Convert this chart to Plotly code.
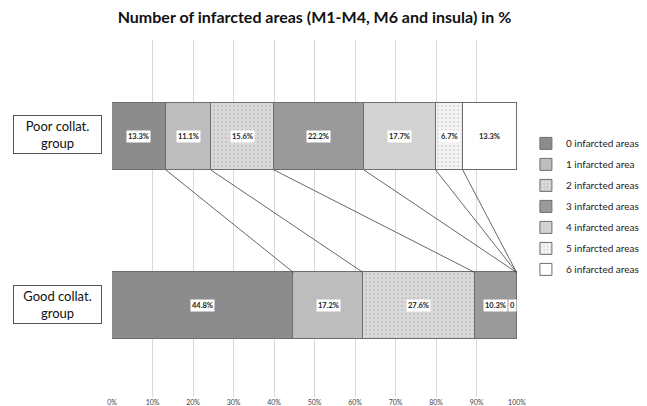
import plotly.graph_objects as go

groups = ["Good collat. group", "Poor collat. group"]
group_labels = ["Good collat.<br>group", "Poor collat.<br>group"]
series = ["0 infarcted areas", "1 infarcted area", "2 infarcted areas", "3 infarcted areas",
          "4 infarcted areas", "5 infarcted areas", "6 infarcted areas"]
poor = [13.3, 11.1, 15.6, 22.2, 17.7, 6.7, 13.3]
good = [44.8, 17.2, 27.6, 10.3, 0.0, 0.0, 0.0]
tick_vals = [0, 10, 20, 30, 40, 50, 60, 70, 80, 90, 100]
tick_text = [f"{v}%" for v in tick_vals]

colors = ["#8c8c8c", "#bdbdbd", "#dadada", "#9a9a9a", "#d2d2d2", "#f4f4f4", "#ffffff"]
patterns = ["", "", ".", "", "", ".", ""]
pat_fg = ["#8c8c8c", "#bdbdbd", "#b0b0b0", "#9a9a9a", "#d2d2d2", "#c8c8c8", "#ffffff"]

FONT = "Lato, Calibri, Carlito, sans-serif"
W = 0.395
Y_GOOD, Y_POOR = 0, 1

# page body has an 8px margin, so the figure is sized to fit the window
FIG_W, FIG_H = 639, 398
L, R, T, B = 104, 130, 32, 9

fig = go.Figure()
for i, name in enumerate(series):
    fig.add_trace(go.Bar(
        x=[good[i], poor[i]], y=[Y_GOOD, Y_POOR], orientation="h", name=name,
        width=W, legendgroup=f"g{i}",
        marker=dict(color=colors[i], line=dict(color="#6e6e6e", width=1),
                    pattern=dict(shape=patterns[i], fgcolor=pat_fg[i], bgcolor=colors[i],
                                 size=4, solidity=0.3)),
        hoverinfo="skip",
    ))

# connector lines between cumulative ends
lx, ly = [], []
cp, cg = 0.0, 0.0
for i in range(len(series) - 1):
    cp += poor[i]
    cg += good[i]
    lx += [cp, cg, None]
    ly += [Y_POOR - W / 2, Y_GOOD + W / 2, None]
fig.add_trace(go.Scatter(x=lx, y=ly, mode="lines", line=dict(color="#404040", width=0.8),
                         showlegend=False, hoverinfo="skip"))

# data labels
annotations = []
for vals, yv in [(poor, Y_POOR), (good, Y_GOOD)]:
    c = 0.0
    zero_done = False
    for v in vals:
        if v > 0:
            annotations.append(dict(x=c + v / 2, y=yv, xref="x", yref="y", text=f"<b>{v:.1f}%</b>",
                                    showarrow=False, bgcolor="white",
                                    font=dict(family=FONT, size=7.5, color="#222222"), borderpad=1))
        elif not zero_done:
            zero_done = True
            annotations.append(dict(x=c, y=yv, xref="x", yref="y", text="<b>0</b>",
                                    showarrow=False, bgcolor="white", xanchor="right",
                                    font=dict(family=FONT, size=7.5, color="#222222"), borderpad=1))
        c += v

for lbl, yv in zip(group_labels, [Y_GOOD, Y_POOR]):
    annotations.append(dict(x=-0.245, y=yv + 0.01, xref="paper", yref="y", text=lbl, showarrow=False,
                            xanchor="left", align="center", width=85, height=35,
                            bordercolor="#555555", borderwidth=1, bgcolor="white",
                            font=dict(family=FONT, size=13, color="#111111")))

fig.update_layout(
    width=FIG_W, height=FIG_H,
    margin=dict(l=L, r=R, t=T, b=B, autoexpand=False),
    paper_bgcolor="white", plot_bgcolor="white",
    barmode="stack", bargap=0,
    title=dict(text="<b>Number of infarcted areas (M1-M4, M6 and insula) in %</b>",
               x=(L + (FIG_W - R)) / 2 / FIG_W, xanchor="center", y=1 - 9 / FIG_H,
               yanchor="middle",
               font=dict(family=FONT, size=16, color="#111111")),
    xaxis=dict(range=[0, 100], tickvals=tick_vals, ticktext=tick_text, showgrid=True,
               gridcolor="#d9d9d9", gridwidth=1, zeroline=False, showline=False,
               tickfont=dict(family=FONT, size=7, color="#444444"), ticks="", ticklabelstandoff=0),
    yaxis=dict(range=[-0.537, 1.569], showticklabels=False, showgrid=False, zeroline=False,
               showline=False),
    legend=dict(x=1.022, y=0.751, xanchor="left", yanchor="top", traceorder="grouped",
                font=dict(family=FONT, size=10, color="#222222"), itemwidth=30,
                tracegroupgap=2, bgcolor="rgba(0,0,0,0)"),
    annotations=annotations,
)

fig.write_html("out.html")
